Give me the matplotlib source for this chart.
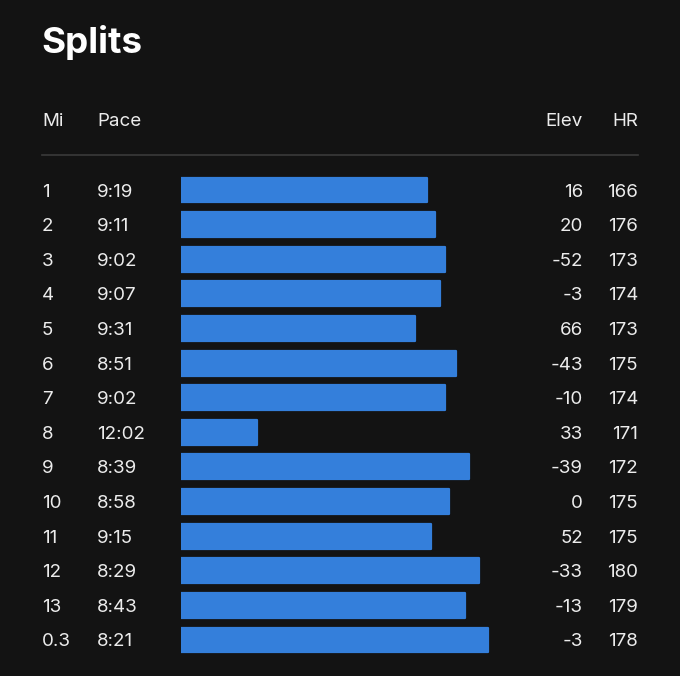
import matplotlib
matplotlib.use("Agg")
import matplotlib.pyplot as plt
from matplotlib import transforms

miles = ["1", "2", "3", "4", "5", "6", "7", "8", "9", "10", "11", "12", "13", "0.3"]
paces = ["9:19", "9:11", "9:02", "9:07", "9:31", "8:51", "9:02", "12:02", "8:39", "8:58", "9:15", "8:29", "8:43", "8:21"]
elev = [16, 20, -52, -3, 66, -43, -10, 33, -39, 0, 52, -33, -13, -3]
hr = [166, 176, 173, 174, 173, 175, 174, 171, 172, 175, 175, 180, 179, 178]
headers = ["Mi", "Pace", "Elev", "HR"]
title = "Splits"

def to_sec(p):
    m, s = p.split(":")
    return int(m) * 60 + int(s)

pace_sec = [to_sec(p) for p in paces]

W, H = 680, 676
BG = "#131313"
BAR = "#347fdb"
TXT = "#ececec"
FONT = ["Inter", "DejaVu Sans"]

fig = plt.figure(figsize=(W / 100, H / 100), dpi=100, facecolor=BG)

row_top = 190 - 17.3
row_bot = 640 + 17.3
ax_left, ax_right = 181, 520
ax = fig.add_axes([ax_left / W, 1 - row_bot / H, (ax_right - ax_left) / W, (row_bot - row_top) / H])
ax.set_facecolor("none")
slowest = 794.5
ax.set_xlim(slowest, slowest - (ax_right - ax_left) / 1.045)
n = len(miles)
ax.set_ylim(n - 0.5, -0.5)
ax.axis("off")

ys = list(range(n))
ax.barh(ys, [slowest - p for p in pace_sec], left=pace_sec, height=0.72,
        color=BAR, edgecolor=BAR, linewidth=1.6, joinstyle="round")

off = transforms.ScaledTranslation(0, -2 / 100, fig.dpi_scale_trans)
tr = transforms.blended_transform_factory(fig.transFigure, ax.transData) + off
fs = 13.5
for i in range(n):
    ax.text(42 / W, i, miles[i], transform=tr, ha="left", va="center", color=TXT, fontsize=fs, family=FONT)
    ax.text(97 / W, i, paces[i], transform=tr, ha="left", va="center", color=TXT, fontsize=fs, family=FONT)
    ax.text(583 / W, i, str(elev[i]), transform=tr, ha="right", va="center", color=TXT, fontsize=fs, family=FONT)
    ax.text(638 / W, i, str(hr[i]), transform=tr, ha="right", va="center", color=TXT, fontsize=fs, family=FONT)

hy = 1 - 121.5 / H
fig.text(42 / W, hy, headers[0], ha="left", va="center", color=TXT, fontsize=fs, family=FONT)
fig.text(97 / W, hy, headers[1], ha="left", va="center", color=TXT, fontsize=fs, family=FONT)
fig.text(583 / W, hy, headers[2], ha="right", va="center", color=TXT, fontsize=fs, family=FONT)
fig.text(638 / W, hy, headers[3], ha="right", va="center", color=TXT, fontsize=fs, family=FONT)

fig.add_artist(plt.Line2D([42 / W, 638 / W], [1 - 155 / H, 1 - 155 / H], transform=fig.transFigure,
                          color="#3a3a3a", linewidth=1.2))

fig.text(41 / W, 1 - 42 / H, title, ha="left", va="center", color="#ffffff", fontsize=26.5,
         fontweight="bold", family=FONT)

fig.savefig("out.png", dpi=100, facecolor=BG)
